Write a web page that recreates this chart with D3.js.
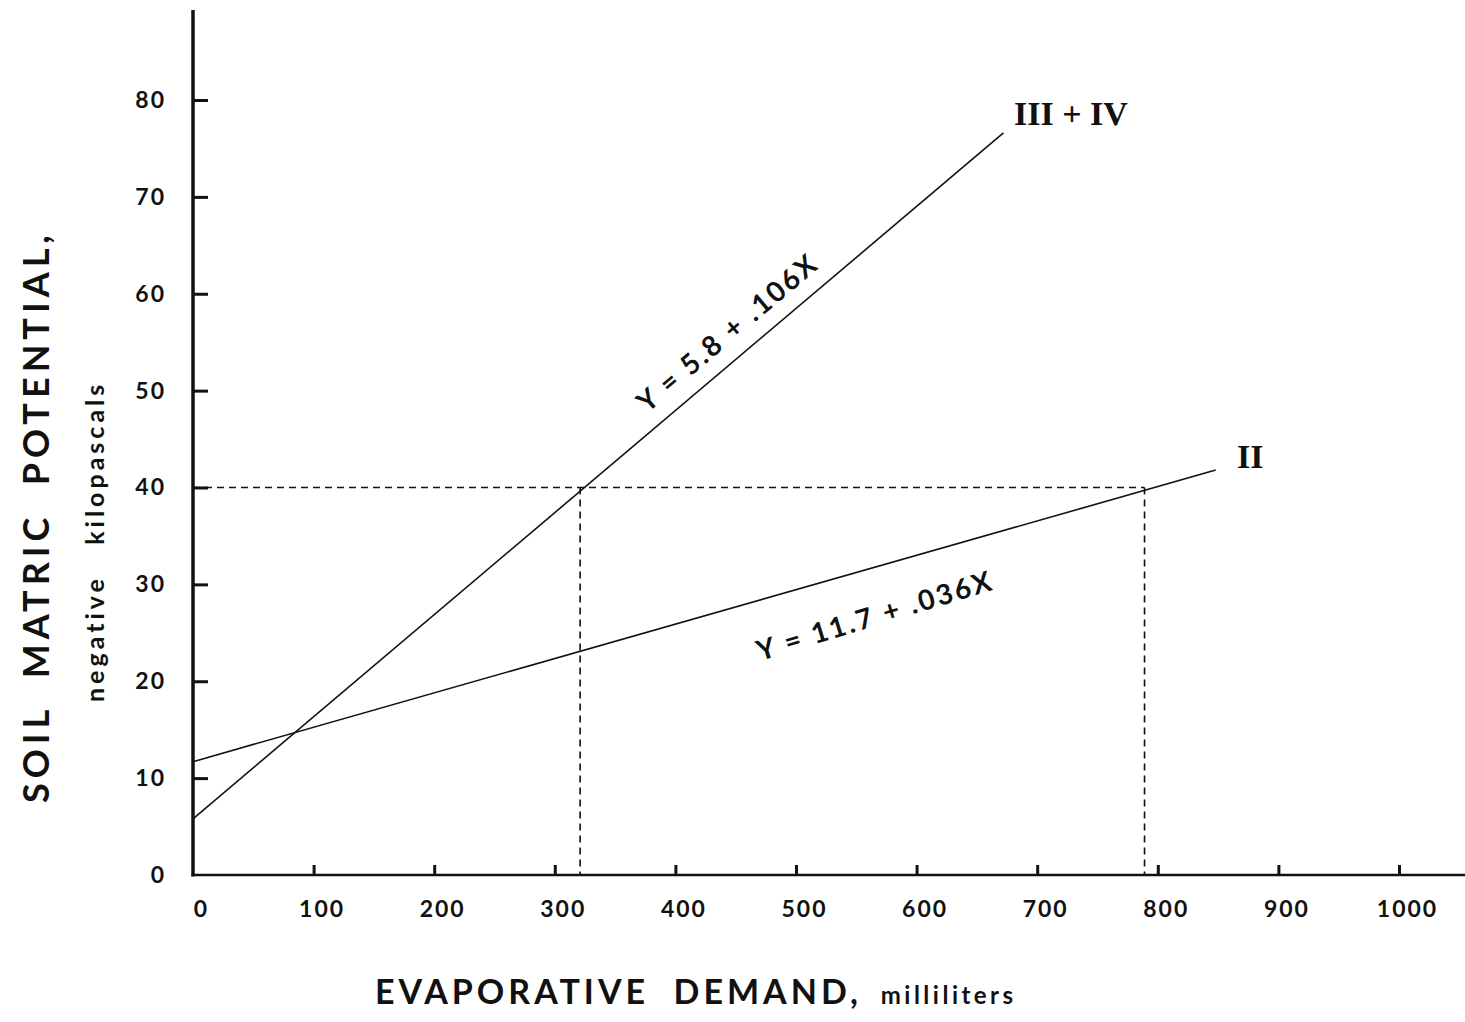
<!DOCTYPE html>
<html>
<head>
<meta charset="utf-8">
<style>
  body { margin: 0; background: #fff; }
  svg { display: block; }
  .tick text { font-family: Lato, "DejaVu Sans", sans-serif; font-weight: 700; font-size: 23px; letter-spacing: 2px; fill: #111; }
  .tick line { stroke: #111; stroke-width: 3px; }
  .axis-line { stroke: #111; fill: none; }
  .fit { stroke: #111; stroke-width: 1.6px; fill: none; }
  .guide { stroke: #111; stroke-width: 1.6px; stroke-dasharray: 7,5; fill: none; }
  .title { font-family: Lato, "DejaVu Sans", sans-serif; font-weight: 700; fill: #111; }
  .eq { font-family: Lato, "DejaVu Sans", sans-serif; font-weight: 700; font-size: 28px; fill: #111; letter-spacing: 2.5px; }
  .roman { font-family: "Liberation Serif", "DejaVu Serif", serif; font-weight: 700; fill: #111; font-size: 34px; }
</style>
</head>
<body>
<svg width="1465" height="1022"></svg>
<script src="https://d3js.org/d3.v7.min.js"></script>
<script>

// tick values
var xTicks = [0, 100, 200, 300, 400, 500, 600, 700, 800, 900, 1000];
var yTicks = [0, 10, 20, 30, 40, 50, 60, 70, 80];

// regression lines, end points
var lineIIIIV = [[0, 5.8], [672, 76.6]];
var lineII = [[0, 11.7], [848, 41.8]];

// dashed guides at 40 kPa
var guideLevel = 40;
var guideX = [321, 789];

var eqIIIIV = "Y = 5.8 + .106X";
var eqII = "Y = 11.7 + .036X";

var svg = d3.select("svg");

var x = d3.scaleLinear().domain([0, 1000]).range([193, 1399]);
var y = d3.scaleLinear().domain([0, 80]).range([875, 100]);

// axis lines
svg.append("line").attr("class", "axis-line")
    .attr("x1", x(0)).attr("x2", x(0))
    .attr("y1", y(89.3)).attr("y2", y(0) + 1.5)
    .style("stroke-width", 3.5);
svg.append("line").attr("class", "axis-line")
    .attr("x1", x(0) - 1.5).attr("x2", 1465)
    .attr("y1", y(0)).attr("y2", y(0))
    .style("stroke-width", 2.5);

// y ticks point into the plot
var yAxis = svg.append("g")
    .attr("transform", "translate(" + x(0) + ",0)")
    .call(d3.axisLeft(y).tickValues(yTicks).tickFormat(d3.format("d"))
      .tickSize(-15).tickSizeOuter(0).tickPadding(27));
yAxis.select(".domain").remove();
yAxis.selectAll(".tick").filter(function(d) { return d === 0; }).select("line").remove();

var xAxis = svg.append("g")
    .attr("transform", "translate(0," + y(0) + ")")
    .call(d3.axisBottom(x).tickValues(xTicks).tickFormat(d3.format("d"))
      .tickSize(-10).tickSizeOuter(0).tickPadding(26));
xAxis.select(".domain").remove();
xAxis.selectAll(".tick").filter(function(d) { return d === 0; }).select("line").remove();
xAxis.selectAll(".tick text").attr("dx", 8);

var line = d3.line().x(function(d) { return x(d[0]); }).y(function(d) { return y(d[1]); });

// guides
svg.append("path").attr("class", "guide")
    .attr("d", line([[0, guideLevel], [guideX[1], guideLevel]]));
guideX.forEach(function(v) {
  svg.append("path").attr("class", "guide")
      .attr("d", line([[v, guideLevel], [v, 0]]));
});

svg.append("path").attr("class", "fit").attr("d", line(lineIIIIV));
svg.append("path").attr("class", "fit").attr("d", line(lineII));

// equation labels, rotated along their lines
function angleOf(pts) {
  return Math.atan2(y(pts[1][1]) - y(pts[0][1]), x(pts[1][0]) - x(pts[0][0])) * 180 / Math.PI;
}
svg.append("text").attr("class", "eq")
    .attr("text-anchor", "middle")
    .attr("transform", "translate(734,340) rotate(" + angleOf(lineIIIIV) + ")")
    .text(eqIIIIV);
svg.append("text").attr("class", "eq")
    .attr("text-anchor", "middle")
    .attr("transform", "translate(878,625) rotate(-17)")
    .text(eqII);

// series labels
svg.append("text").attr("class", "roman")
    .attr("x", 1014).attr("y", 125)
    .text("III + IV");
svg.append("text").attr("class", "roman")
    .attr("x", 1237).attr("y", 468)
    .text("II");

// axis titles
svg.append("text").attr("class", "title")
    .attr("x", 375).attr("y", 1004)
    .style("font-size", "34px").style("letter-spacing", "4px")
    .attr("xml:space", "preserve")
    .text("EVAPORATIVE  DEMAND,")
  .append("tspan")
    .style("font-size", "24px").style("letter-spacing", "3.5px")
    .text("  milliliters");

svg.append("text").attr("class", "title")
    .attr("transform", "translate(49,803) rotate(-90)")
    .style("font-size", "36px").style("letter-spacing", "5px")
    .attr("xml:space", "preserve")
    .text("SOIL  MATRIC  POTENTIAL,");

svg.append("text").attr("class", "title")
    .attr("transform", "translate(104,702) rotate(-90)")
    .style("font-size", "25px").style("letter-spacing", "4px")
    .attr("xml:space", "preserve")
    .text("negative   kilopascals");

</script>
</body>
</html>
